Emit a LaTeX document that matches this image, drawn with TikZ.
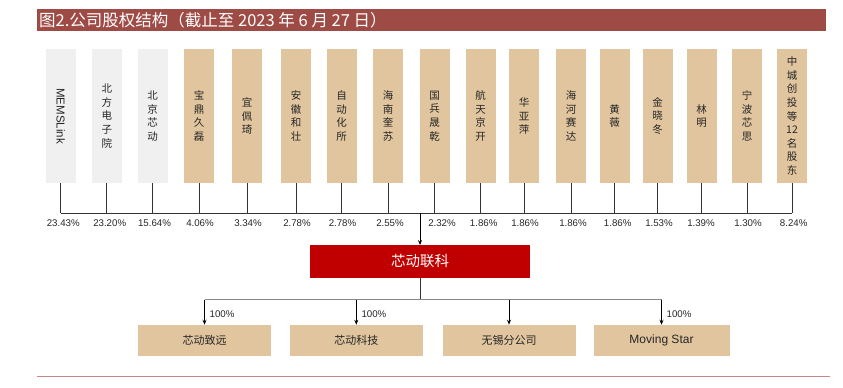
\documentclass[tikz,border=0pt]{standalone}
\usepackage{fontspec}
\setmainfont{Liberation Sans}
\newfontfamily\cjk{Noto Sans CJK SC}
\usetikzlibrary{arrows.meta}
\definecolor{tanbox}{HTML}{E0C59E}
\definecolor{lgraybox}{HTML}{F0F0F0}
\definecolor{titlered}{HTML}{9E4B46}
\definecolor{mainred}{HTML}{C00000}
\definecolor{rulered}{HTML}{C8888A}
\definecolor{linegray}{HTML}{333333}
\definecolor{busgray}{HTML}{888888}
\tikzset{
  topbox/.style={fill=#1, draw=none, minimum width=30, minimum height=134, inner sep=0, align=center,
    font=\cjk\fontsize{10.5}{13.6}\selectfont, text=black!85},
  pct/.style={font=\fontsize{9.7}{10}\selectfont, text=black!85, inner sep=0},
  botbox/.style={fill=tanbox, draw=none, minimum width=133, minimum height=31.5, inner sep=0,
    font=\cjk\fontsize{11}{12}\selectfont, text=black!85},
  conn/.style={draw=linegray, line width=0.8},
  arr/.style={draw=black, line width=0.8, -{Stealth[length=5pt,width=4pt]}},
}
\begin{document}
\begin{tikzpicture}[x=1pt,y=-1pt]
\useasboundingbox (0,0) rectangle (843,388);
% title bar
\fill[titlered] (37,9) rectangle (826,31);
\node[anchor=west, text=white, inner sep=0, font=\cjk\fontsize{16.5}{17}\selectfont] (title) at (39,20) {图2.公司股权结构（截止至 2023 年 6 月 27 日）};
% top boxes
\node[topbox=lgraybox, font=\fontsize{11.5}{12}\selectfont] (t1) at (60.8,116) {\rotatebox{-90}{MEMSLink}};
\node[topbox=lgraybox] (t2) at (106.8,116) {北\\方\\电\\子\\院};
\node[topbox=lgraybox] (t3) at (152.5,116) {北\\京\\芯\\动};
\node[topbox=tanbox] (t4) at (199,116) {宝\\鼎\\久\\磊};
\node[topbox=tanbox] (t5) at (247,116) {宜\\佩\\琦};
\node[topbox=tanbox] (t6) at (296,116) {安\\徽\\和\\壮};
\node[topbox=tanbox] (t7) at (341.5,116) {自\\动\\化\\所};
\node[topbox=tanbox] (t8) at (388,116) {海\\南\\奎\\苏};
\node[topbox=tanbox] (t9) at (434.5,116) {国\\兵\\晟\\乾};
\node[topbox=tanbox] (t10) at (480.5,116) {航\\天\\京\\开};
\node[topbox=tanbox] (t11) at (524,116) {华\\亚\\萍};
\node[topbox=tanbox] (t12) at (571,116) {海\\河\\赛\\达};
\node[topbox=tanbox] (t13) at (614.5,116) {黄\\薇};
\node[topbox=tanbox] (t14) at (657.5,116) {金\\晓\\冬};
\node[topbox=tanbox] (t15) at (701.5,116) {林\\明};
\node[topbox=tanbox] (t16) at (747,116) {宁\\波\\芯\\思};
\node[topbox=tanbox] (t17) at (792,116) {中\\城\\创\\投\\等\\12\\名\\股\\东};
% bus
\coordinate (bus) at (0,213);
\foreach \i in {1,...,17} {\draw[conn] (t\i.south) -- (t\i.south |- bus);}
\draw[conn] (t1.south |- bus) -- (t17.south |- bus);
% percentages
\foreach \i/\p/\x in {1/23.43\%/63.3, 2/23.20\%/109.7, 3/15.64\%/154.5, 4/4.06\%/200, 5/3.34\%/248, 6/2.78\%/297,
  7/2.78\%/342.5, 8/2.55\%/390, 9/2.32\%/442, 10/1.86\%/483.7, 11/1.86\%/525, 12/1.86\%/573,
  13/1.86\%/617.7, 14/1.53\%/659, 15/1.39\%/701, 16/1.30\%/748, 17/8.24\%/793.7}
  {\node[pct] (p\i) at (\x,222.7) {\p};}
% main company
\node[fill=mainred, minimum width=220, minimum height=32.4, inner sep=0, text=white,
  font=\cjk\fontsize{14.5}{15}\selectfont] (main) at (420,261.5) {芯动联科};
\coordinate (top) at (420,213);
\draw[arr] (top) -- (main.north);
% subsidiaries
\node[botbox] (b1) at (204.5,340.7) {芯动致远};
\node[botbox] (b2) at (356.3,340.7) {芯动科技};
\node[botbox] (b3) at (509,340.7) {无锡分公司};
\node[botbox, minimum width=136, font=\fontsize{12}{13}\selectfont] (b4) at (661.5,340.7) {Moving Star};
\coordinate (bus2) at (0,299.5);
\draw[conn] (main.south) -- (main.south |- bus2);
\draw[draw=busgray, line width=1.3] (b1.north |- bus2) -- (b4.north |- bus2);
\foreach \i in {1,...,4} {\draw[arr] (b\i.north |- bus2) -- (b\i.north);}
\foreach \i in {1,2,4} {\node[pct, anchor=west] (q\i) at ([xshift=5,yshift=11]b\i.north) {100\%};}
% bottom rule
\draw[rulered, line width=1] (37,376.5) -- (830,376.5);
\end{tikzpicture}
\end{document}
